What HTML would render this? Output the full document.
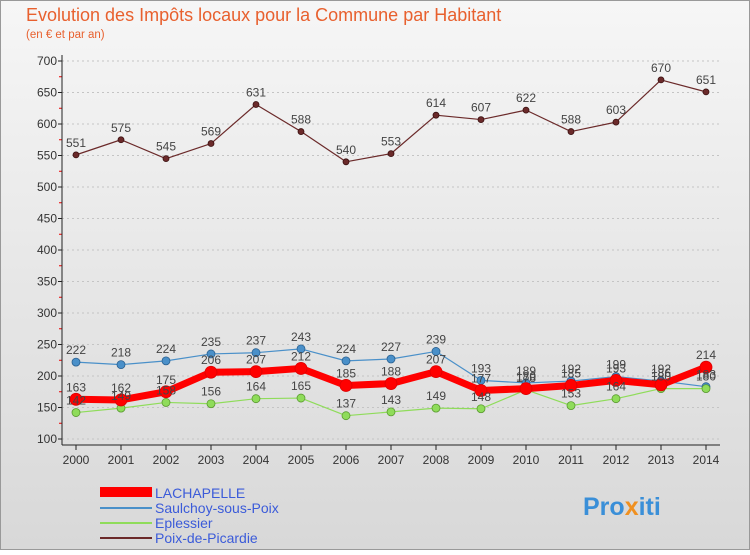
<!DOCTYPE html>
<html><head><meta charset="utf-8"><style>
body{margin:0;width:750px;height:550px;overflow:hidden;font-family:"Liberation Sans",sans-serif}
</style></head><body>
<svg id="c" width="750" height="550" xmlns="http://www.w3.org/2000/svg">
<defs><linearGradient id="bg" x1="0" y1="0" x2="0" y2="1"><stop offset="0" stop-color="#f6f6f6"/><stop offset="1" stop-color="#d8d8d8"/></linearGradient></defs>
<rect x="0.5" y="0.5" width="749" height="549" fill="url(#bg)" stroke="#999"/>
<text x="26" y="21" font-size="18" fill="#e8602e">Evolution des Impôts locaux pour la Commune par Habitant</text>
<text x="26" y="38" font-size="11.5" fill="#e8602e">(en € et par an)</text>
<g id="grid"></g><g id="series"></g><g id="labels"></g>
<g>
<rect x="100" y="487" width="52" height="10" fill="#f00"/>
<text x="155" y="498" font-size="14" fill="#3b5bd9">LACHAPELLE</text>
<line x1="100" y1="508" x2="152" y2="508" stroke="#4a90c9" stroke-width="2"/>
<text x="155" y="513" font-size="14" fill="#3b5bd9">Saulchoy-sous-Poix</text>
<line x1="100" y1="523" x2="152" y2="523" stroke="#8fdc5a" stroke-width="2"/>
<text x="155" y="528" font-size="14" fill="#3b5bd9">Eplessier</text>
<line x1="100" y1="538" x2="152" y2="538" stroke="#6b2a2a" stroke-width="2"/>
<text x="155" y="543" font-size="14" fill="#3b5bd9">Poix-de-Picardie</text>
</g>
<text x="583" y="515" font-size="25" font-weight="bold" fill="#3a8fd8">Pro<tspan fill="#f09020">x</tspan>iti</text>
</svg>
<script>
const years=[2000,2001,2002,2003,2004,2005,2006,2007,2008,2009,2010,2011,2012,2013,2014];
const yTicks=[100,150,200,250,300,350,400,450,500,550,600,650,700];
const poix=[551,575,545,569,631,588,540,553,614,607,622,588,603,670,651];
const saulchoy=[222,218,224,235,237,243,224,227,239,193,189,192,199,192,183];
const eplessier=[142,149,158,156,164,165,137,143,149,148,178,153,164,180,180];
const lachapelle=[163,162,175,206,207,212,185,188,207,177,180,185,193,186,214];
const NS='http://www.w3.org/2000/svg';
const X=i=>76+i*45, Y=v=>439-(v-100)*0.63;
function mk(t,a,p){const e=document.createElementNS(NS,t);for(const k in a)e.setAttribute(k,a[k]);(p||document.getElementById('c')).appendChild(e);return e;}
const grid=document.getElementById('grid'),ser=document.getElementById('series'),lab=document.getElementById('labels');
yTicks.forEach(v=>{
 const l=mk('line',{x1:62,x2:720,y1:Y(v),y2:Y(v),stroke:'#c4c4c4','stroke-dasharray':'2,3'},grid);
 
 
 mk('line',{x1:58,x2:62,y1:Y(v),y2:Y(v),stroke:'#222'},grid);
 if(v<700) mk('line',{x1:59,x2:62,y1:Y(v+25),y2:Y(v+25),stroke:'#e00'},grid);
 const t=mk('text',{x:57,y:Y(v)+4,'font-size':12,'text-anchor':'end',fill:'#333'},grid);t.textContent=v;
 
 
});
mk('line',{x1:62,x2:62,y1:55,y2:445,stroke:'#222'},grid);
mk('line',{x1:62,x2:720,y1:445,y2:445,stroke:'#222'},grid);
years.forEach((y,i)=>{
 mk('line',{x1:X(i),x2:X(i),y1:445,y2:450,stroke:'#222'},grid);
 const t=mk('text',{x:X(i),y:464,'font-size':12,'text-anchor':'middle',fill:'#333'},grid);t.textContent=y;
 
 
});
function draw(name,d,col,w,r,stroke){
 const g=mk('g',{},ser);
 
 
 const pl=mk('polyline',{points:d.map((v,i)=>X(i)+','+Y(v)).join(' '),fill:'none',stroke:col,'stroke-width':w,'stroke-linejoin':'round'},g);
 
 
 d.forEach((v,i)=>{
  const c=mk('circle',{cx:X(i),cy:Y(v),r:r,fill:col,stroke:stroke,'stroke-width':0.8},g);
  
  
  const t=mk('text',{x:X(i),y:Y(v)-8,'font-size':12,'text-anchor':'middle',fill:'#444'},lab);t.textContent=v;
  
  
 });
}
draw('poix',poix,'#6b2a2a',1.2,3,'#3a1010');
draw('saulchoy',saulchoy,'#4a90c9',1.2,4,'#2a6090');
draw('eplessier',eplessier,'#8fdc5a',1.2,4,'#5a9a30');
draw('lachapelle',lachapelle,'#f00',7,6,'#d00');
</script>
</body></html>
